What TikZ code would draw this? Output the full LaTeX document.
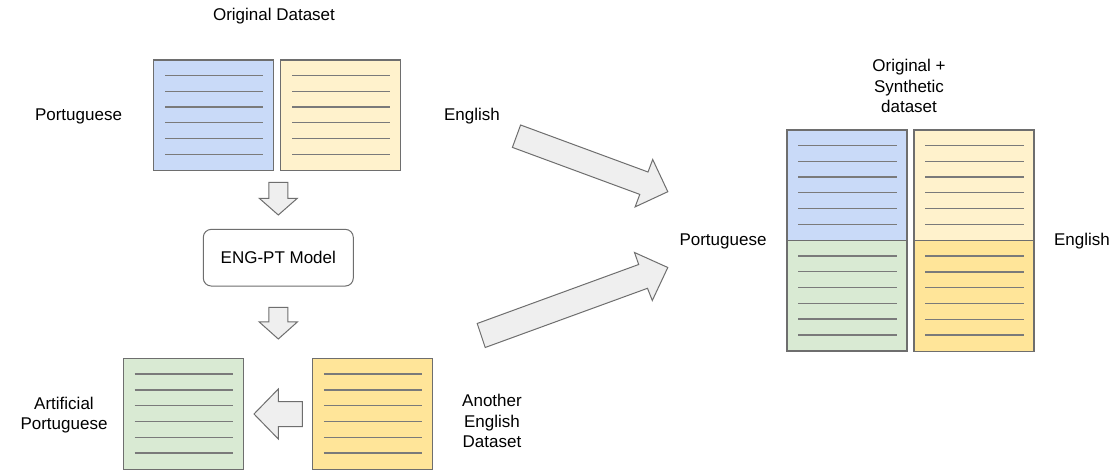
\documentclass[tikz,border=0pt]{standalone}
\usepackage{fontspec}
\setmainfont{Liberation Sans}
\usetikzlibrary{calc}

\definecolor{docblue}{HTML}{C9DAF8}
\definecolor{doccream}{HTML}{FFF2CC}
\definecolor{docgreen}{HTML}{D9EAD3}
\definecolor{docgold}{HTML}{FFE599}
\definecolor{edgegray}{HTML}{6E6E6E}
\definecolor{rulegray}{HTML}{7A7A7A}
\definecolor{arrowfill}{HTML}{EFEFEF}

\tikzset{
  sheet/.style={draw=edgegray, line width=1.3pt, minimum width=120pt,
    minimum height=110.5pt, inner sep=0pt},
  ruling/.style={draw=rulegray, line width=1.3pt},
  lbl/.style={font=\fontsize{17}{20.5}\selectfont, align=center, inner sep=0pt},
  blockarrow/.style={draw=edgegray, fill=arrowfill, line width=1pt, line join=miter},
  modelbox/.style={draw=edgegray, line width=1pt, rounded corners=8pt,
    minimum width=150pt, minimum height=56.7pt, fill=white,
    font=\fontsize{17}{20.5}\selectfont}
}

% a ruled sheet of text: name, x, y, fill colour
\newcommand{\docsheet}[4]{%
  \node[sheet, fill=#4] (#1) at (#2,#3) {};
  \foreach \k in {0,...,5}
    \draw[ruling] ($(#1.north west)+(12,16+15.8*\k)$) -- ($(#1.north east)+(-11,16+15.8*\k)$);
}

\begin{document}
\begin{tikzpicture}[x=1pt,y=-1pt]
  \fill[white] (0,0) rectangle (1112,470);
  \useasboundingbox (0,0) rectangle (1112,470);

  % original dataset
  \docsheet{ptorig}{213.7}{115.3}{docblue}
  \docsheet{enorig}{340.7}{115.3}{doccream}
  \node[lbl] (ttl) at (274,16) {Original Dataset};
  \node[lbl] (ptl) at (78.5,116) {Portuguese};
  \node[lbl] (enl) at (472,116) {English};

  % translation model
  \node[modelbox] (model) at (278.3,257.7) {ENG-PT Model};
  \draw[blockarrow] (268.8,182.3) -- (287.8,182.3) -- (287.8,198.3) -- (297.3,198.3)
    -- (278.3,215) -- (259.3,198.3) -- (268.8,198.3) -- cycle;
  \draw[blockarrow] (268.8,307.5) -- (287.8,307.5) -- (287.8,322) -- (297.3,322)
    -- (278.3,339) -- (259.3,322) -- (268.8,322) -- cycle;

  % artificial data
  \docsheet{artpt}{183.3}{414}{docgreen}
  \docsheet{anoth}{372.5}{414}{docgold}
  \draw[blockarrow] (302.3,401.7) -- (278.3,401.7) -- (278.3,389) -- (254,414)
    -- (278.3,439) -- (278.3,426.7) -- (302.3,426.7) -- cycle;
  \node[lbl] (artl) at (64,415) {Artificial\\Portuguese};
  \node[lbl] (anl) at (492,421) {Another\\English\\Dataset};

  % combined dataset
  \docsheet{synpt}{847}{185.3}{docblue}
  \docsheet{synen}{974}{185.3}{doccream}
  \docsheet{syngr}{847}{295.8}{docgreen}
  \docsheet{synyl}{974}{296}{docgold}
  \node[lbl] (synt) at (909,86) {Original +\\Synthetic\\dataset};
  \node[lbl] (ptm) at (723,241) {Portuguese};
  \node[lbl] (enr) at (1082,241) {English};

  % merging arrows
  \draw[blockarrow] (520.6,125.0) -- (648.0,172.0) -- (652.7,159.5) -- (667.8,191.7)
    -- (635.1,206.9) -- (639.8,194.4) -- (512.4,147.4) -- cycle;
  \draw[blockarrow] (477.2,323.5) -- (638.7,264.5) -- (634.5,252.5) -- (667.8,267.5)
    -- (652.3,300.5) -- (647.5,288.3) -- (485.2,347.5) -- cycle;
\end{tikzpicture}
\end{document}
